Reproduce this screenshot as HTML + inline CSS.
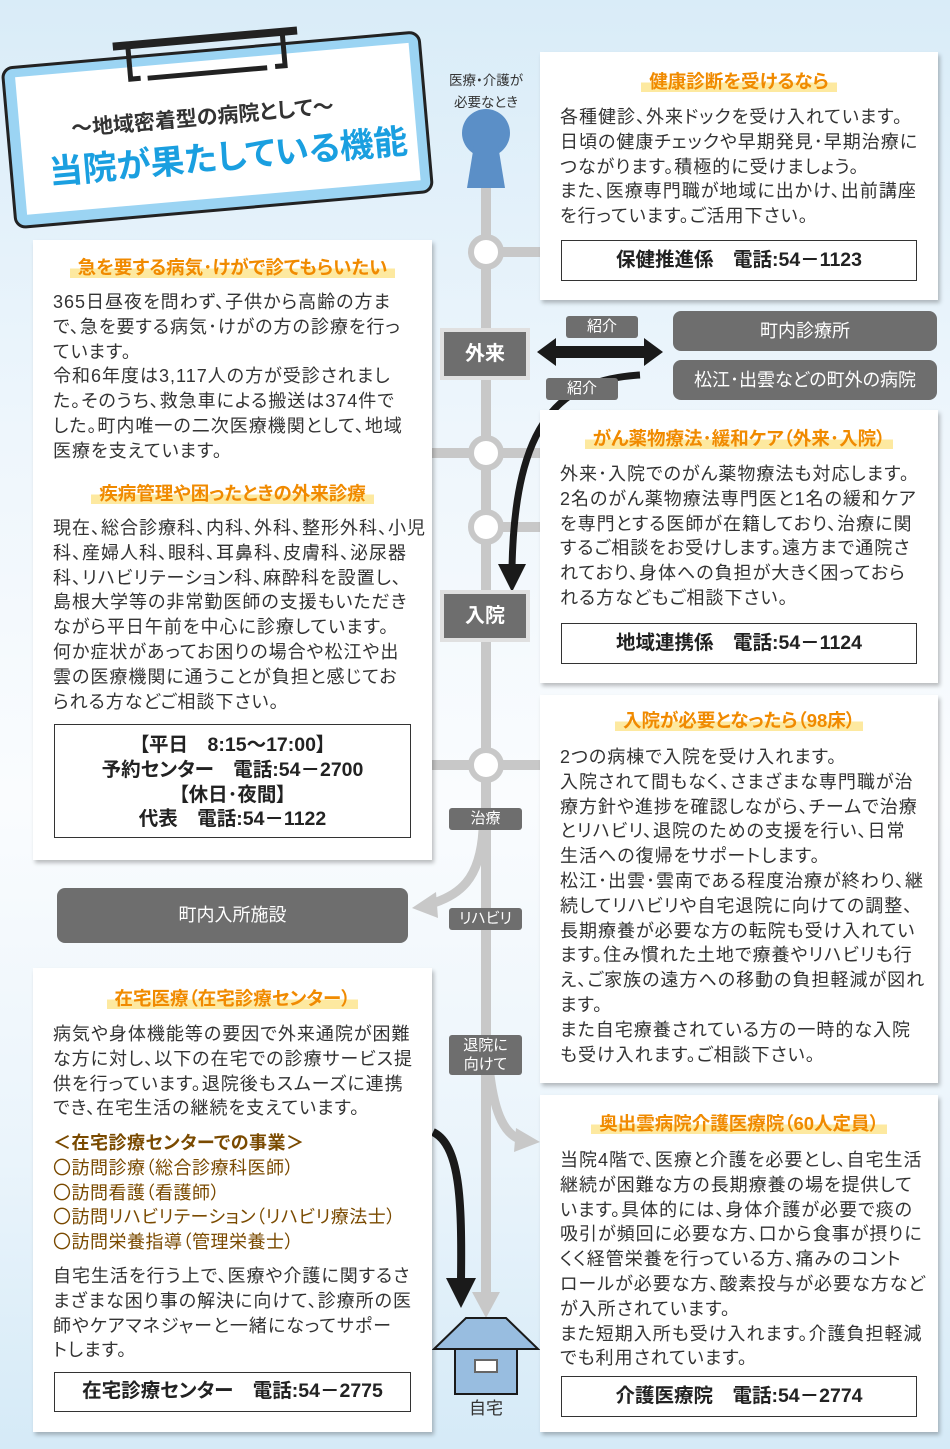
<!DOCTYPE html>
<html><head><meta charset="utf-8"><style>
*{margin:0;padding:0;box-sizing:border-box}
body{width:950px;height:1449px;position:relative;overflow:hidden;font-family:"Liberation Sans","Noto Sans CJK JP",sans-serif;color:#333;background:linear-gradient(180deg,#d9ecf8 0%,#eef6fc 30%,#fafcfe 55%,#eaf4fb 80%,#d5eaf7 100%);font-feature-settings:"palt"}
.p{position:absolute;background:#fff;box-shadow:2px 3px 4px rgba(0,0,0,.25)}
.t{position:absolute;white-space:nowrap;font-size:18px;line-height:24.8px;color:#333;letter-spacing:1px}
.h{position:absolute;white-space:nowrap;font-weight:bold;color:#f08a00;font-size:18.5px;text-align:center}
.h span{background:linear-gradient(180deg,transparent 55%,#fde9a0 55%);padding:0 8px}
.bx{position:absolute;border:1.5px solid #333;background:#fff;text-align:center;font-size:19.5px;color:#222;white-space:nowrap;font-weight:bold}
.g{position:absolute;background:#6e6e6e;color:#fff;border-radius:8px;text-align:center;white-space:nowrap}
.pill{position:absolute;background:#6e6e6e;color:#fff;border-radius:3px;font-size:15px;text-align:center;line-height:22px;white-space:nowrap}
.k{position:absolute;background:#6e6e6e;color:#fff;font-weight:bold;font-size:20px;text-align:center;outline:4px solid #e0e0e0;}
</style></head><body>
<svg width="950" height="1449" style="position:absolute;left:0;top:0">
<rect x="481" y="180" width="10" height="1120" fill="#c8c8c8"/>
<path d="M486,1318 L472,1292 L500,1292 Z" fill="#c8c8c8"/>
<rect x="486" y="247" width="60" height="10" fill="#c8c8c8"/>
<rect x="432" y="448" width="120" height="10" fill="#c8c8c8"/>
<rect x="486" y="522" width="60" height="10" fill="#c8c8c8"/>
<rect x="432" y="760" width="120" height="10" fill="#c8c8c8"/>
<g fill="#fff" stroke="#c8c8c8" stroke-width="6">
<circle cx="486" cy="252" r="15"/><circle cx="486" cy="453" r="15"/><circle cx="486" cy="527" r="15"/><circle cx="486" cy="765" r="15"/>
</g>
<circle cx="486" cy="133" r="24" fill="#5b8fc7"/>
<path d="M474,145 L498,145 L505,188 L467,188 Z" fill="#5b8fc7"/>
<path d="M483,830 C480,880 460,895 428,905" stroke="#c8c8c8" stroke-width="9" fill="none"/>
<path d="M412,908 L436,892 L438,918 Z" fill="#c8c8c8"/>
<path d="M490,1075 C495,1115 505,1135 522,1140" stroke="#c8c8c8" stroke-width="9" fill="none"/>
<path d="M540,1142 L516,1128 L514,1152 Z" fill="#c8c8c8"/>
<path d="M537,352 L556,338 L556,346 L644,346 L644,338 L663,352 L644,366 L644,358 L556,358 L556,366 Z" fill="#1a1a1a"/>
<path d="M640,375 C560,380 515,420 512,568" stroke="#1a1a1a" stroke-width="7" fill="none"/>
<path d="M512,592 L498,564 L526,564 Z" fill="#1a1a1a"/>
<path d="M433,1132 C460,1145 462,1200 461,1280" stroke="#1a1a1a" stroke-width="8" fill="none"/>
<path d="M461,1308 L446,1278 L476,1278 Z" fill="#1a1a1a"/>
<path d="M434,1349 L466,1318 L506,1318 L538,1349 Z" fill="#98bde0" stroke="#1a1a1a" stroke-width="2"/>
<rect x="455" y="1349" width="62" height="45" fill="#98bde0" stroke="#1a1a1a" stroke-width="2"/>
<rect x="475" y="1360" width="22" height="12" fill="#fff" stroke="#666" stroke-width="2"/>
<g transform="rotate(-5 215 125)">
<rect x="8" y="50" width="418" height="160" rx="10" fill="#9bd4f3" stroke="#222" stroke-width="3"/>
<rect x="20" y="60" width="395" height="138" fill="#fff"/>
<path d="M135,40 L135,72 L145,72" stroke="#222" stroke-width="5" fill="none"/>
<path d="M290,40 L290,72 L280,72" stroke="#222" stroke-width="5" fill="none"/>
<rect x="120" y="34" width="185" height="8" fill="#222"/>
<rect x="152" y="70" width="120" height="5" fill="#222"/>
</g>
</svg>
<div style="position:absolute;left:48px;top:115px;transform:rotate(-5deg);transform-origin:left top;white-space:nowrap">
<div style="font-size:21px;font-weight:bold;color:#333;margin-left:22px">～地域密着型の病院として～</div>
<div style="font-size:34px;font-weight:bold;color:#1a9fe0;margin-top:0px;margin-left:-4px">当院が果たしている機能</div>
</div>
<div style="position:absolute;left:438px;top:70px;width:96px;text-align:center;font-size:13.5px;line-height:22px;color:#333">医療・介護が<br>必要なとき</div>

<div class="p" style="left:540px;top:52px;width:398px;height:248px"></div>
<div class="h" style="left:540px;top:68px;width:398px"><span>健康診断を受けるなら</span></div>
<div class="t" style="left:560px;top:105px">各種健診、外来ドックを受け入れています。<br>日頃の健康チェックや早期発見･早期治療に<br>つながります。積極的に受けましょう。<br>また、医療専門職が地域に出かけ、出前講座<br>を行っています。ご活用下さい。</div>
<div class="bx" style="left:561px;top:240px;width:356px;height:41px;line-height:38px">保健推進係　電話:54－1123</div>

<div class="g" style="left:673px;top:311px;width:264px;height:40px;line-height:40px;font-size:18px">町内診療所</div>
<div class="g" style="left:673px;top:360px;width:264px;height:40px;line-height:40px;font-size:18px">松江･出雲などの町外の病院</div>
<div class="pill" style="left:566px;top:316px;width:72px">紹介</div>
<div class="pill" style="left:546px;top:378px;width:72px">紹介</div>
<div class="k" style="left:444px;top:332px;width:82px;height:44px;line-height:44px">外来</div>
<div class="k" style="left:444px;top:594px;width:82px;height:44px;line-height:44px">入院</div>
<div class="pill" style="left:449px;top:808px;width:73px">治療</div>
<div class="pill" style="left:449px;top:908px;width:73px">リハビリ</div>
<div class="pill" style="left:449px;top:1035px;width:73px;line-height:19px;padding-top:1px;height:40px">退院に<br>向けて</div>
<div style="position:absolute;left:456px;top:1394px;width:60px;text-align:center;font-size:17px;color:#333">自宅</div>

<div class="p" style="left:540px;top:410px;width:398px;height:273px"></div>
<div class="h" style="left:540px;top:425px;width:398px"><span>がん薬物療法･緩和ケア（外来･入院）</span></div>
<div class="t" style="left:560px;top:462px">外来･入院でのがん薬物療法も対応します。<br>2名のがん薬物療法専門医と1名の緩和ケア<br>を専門とする医師が在籍しており、治療に関<br>するご相談をお受けします。遠方まで通院さ<br>れており、身体への負担が大きく困っておら<br>れる方などもご相談下さい。</div>
<div class="bx" style="left:561px;top:623px;width:356px;height:41px;line-height:38px">地域連携係　電話:54－1124</div>

<div class="p" style="left:540px;top:695px;width:398px;height:388px"></div>
<div class="h" style="left:540px;top:707px;width:398px"><span>入院が必要となったら（98床）</span></div>
<div class="t" style="left:560px;top:745px">2つの病棟で入院を受け入れます。<br>入院されて間もなく、さまざまな専門職が治<br>療方針や進捗を確認しながら、チームで治療<br>とリハビリ、退院のための支援を行い、日常<br>生活への復帰をサポートします。<br>松江･出雲･雲南である程度治療が終わり、継<br>続してリハビリや自宅退院に向けての調整、<br>長期療養が必要な方の転院も受け入れてい<br>ます。住み慣れた土地で療養やリハビリも行<br>え、ご家族の遠方への移動の負担軽減が図れ<br>ます。<br>また自宅療養されている方の一時的な入院<br>も受け入れます。ご相談下さい。</div>

<div class="p" style="left:540px;top:1095px;width:398px;height:337px"></div>
<div class="h" style="left:540px;top:1110px;width:398px"><span>奥出雲病院介護医療院（60人定員）</span></div>
<div class="t" style="left:560px;top:1148px">当院4階で、医療と介護を必要とし、自宅生活<br>継続が困難な方の長期療養の場を提供して<br>います。具体的には、身体介護が必要で痰の<br>吸引が頻回に必要な方、口から食事が摂りに<br>くく経管栄養を行っている方、痛みのコント<br>ロールが必要な方、酸素投与が必要な方など<br>が入所されています。<br>また短期入所も受け入れます。介護負担軽減<br>でも利用されています。</div>
<div class="bx" style="left:561px;top:1376px;width:356px;height:41px;line-height:38px">介護医療院　電話:54－2774</div>

<div class="p" style="left:33px;top:240px;width:399px;height:620px"></div>
<div class="h" style="left:33px;top:254px;width:399px"><span>急を要する病気･けがで診てもらいたい</span></div>
<div class="t" style="left:53px;top:290px">365日昼夜を問わず、子供から高齢の方ま<br>で、急を要する病気･けがの方の診療を行っ<br>ています。<br>令和6年度は3,117人の方が受診されまし<br>た。そのうち、救急車による搬送は374件で<br>した。町内唯一の二次医療機関として、地域<br>医療を支えています。</div>
<div class="h" style="left:33px;top:480px;width:399px"><span>疾病管理や困ったときの外来診療</span></div>
<div class="t" style="left:53px;top:516px">現在、総合診療科、内科、外科、整形外科、小児<br>科、産婦人科、眼科、耳鼻科、皮膚科、泌尿器<br>科、リハビリテーション科、麻酔科を設置し、<br>島根大学等の非常勤医師の支援もいただき<br>ながら平日午前を中心に診療しています。<br>何か症状があってお困りの場合や松江や出<br>雲の医療機関に通うことが負担と感じてお<br>られる方などご相談下さい。</div>
<div class="bx" style="left:54px;top:724px;width:357px;height:114px;line-height:24.8px;padding-top:8px">【平日　8:15～17:00】<br>予約センター　電話:54－2700<br>【休日･夜間】<br>代表　電話:54－1122</div>

<div class="g" style="left:57px;top:888px;width:351px;height:55px;line-height:55px;font-size:18px">町内入所施設</div>

<div class="p" style="left:33px;top:968px;width:399px;height:464px"></div>
<div class="h" style="left:33px;top:985px;width:399px"><span>在宅医療（在宅診療センター）</span></div>
<div class="t" style="left:53px;top:1022px">病気や身体機能等の要因で外来通院が困難<br>な方に対し、以下の在宅での診療サービス提<br>供を行っています。退院後もスムーズに連携<br>でき、在宅生活の継続を支えています。</div>
<div class="t" style="left:53px;top:1131px;color:#7a4a00;letter-spacing:0.5px"><b>＜在宅診療センターでの事業＞</b><br>〇訪問診療（総合診療科医師）<br>〇訪問看護（看護師）<br>〇訪問リハビリテーション（リハビリ療法士）<br>〇訪問栄養指導（管理栄養士）</div>
<div class="t" style="left:53px;top:1264px">自宅生活を行う上で、医療や介護に関するさ<br>まざまな困り事の解決に向けて、診療所の医<br>師やケアマネジャーと一緒になってサポー<br>トします。</div>
<div class="bx" style="left:54px;top:1372px;width:357px;height:40px;line-height:37px">在宅診療センター　電話:54－2775</div>
</body></html>
